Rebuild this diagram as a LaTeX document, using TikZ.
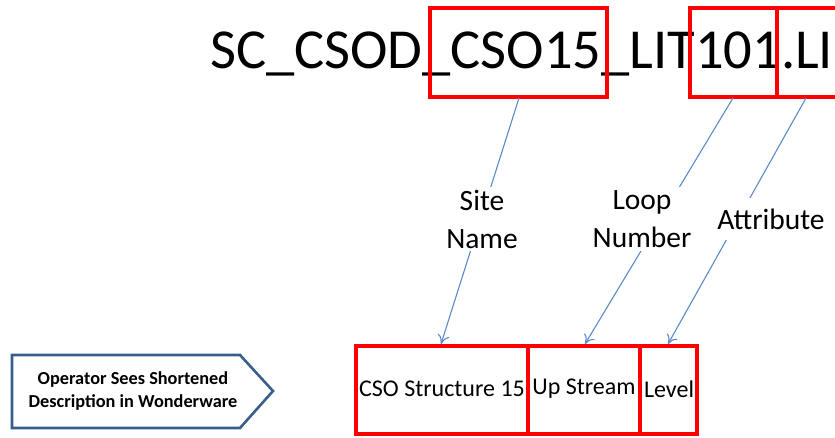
\documentclass[tikz,border=0pt]{standalone}
\usepackage{fontspec}
\setmainfont{Carlito}
\usetikzlibrary{arrows.meta}
\definecolor{boxred}{HTML}{FF0000}
\definecolor{lineblue}{HTML}{5B8AC9}
\definecolor{navy}{HTML}{3A5E8C}
\tikzset{
  redbox/.style={draw=boxred, line width=3.2pt},
  conn/.style={draw=lineblue, line width=1.1pt, -{To[length=9pt,width=12pt,line width=1.1pt]}},
  lbl/.style={fill=white, inner xsep=6pt, inner ysep=3pt, align=center, font=\fontsize{29.5}{38}\selectfont},
  btxt/.style={font=\fontsize{24}{28}\selectfont, inner sep=0pt}
}
\begin{document}
\begin{tikzpicture}[x=1pt,y=-1pt]
\useasboundingbox (0,0) rectangle (835,437);
% title text
\node[anchor=base west, inner sep=0pt, font=\fontsize{56.5}{60}\selectfont] (title) at (210,68) {SC\_CSOD\_CSO15\_LIT101.LI};
% top red boxes
\draw[redbox] (430,8) rectangle (607,97);
\draw[redbox] (690,8) rectangle (777,97);
\draw[redbox] (777,8) rectangle (840,97);
\coordinate (sA) at (519,98);
\coordinate (sB) at (733,98);
\coordinate (sC) at (806,98);
% bottom boxes
\draw[redbox] (356,346) rectangle (528,434);
\draw[redbox] (528,346) rectangle (640,434);
\draw[redbox] (640,346) rectangle (697,434);
\node[btxt] (bA) at (442,389) {CSO Structure 15};
\node[btxt] (bB) at (584,389) {Up Stream};
\node[btxt] (bC) at (669,389) {Level};
\coordinate (tA) at (441,344);
\coordinate (tB) at (585,344);
\coordinate (tC) at (668,344);
% connectors
\draw[conn] (sA) -- (tA);
\draw[conn] (sB) -- (tB);
\draw[conn] (sC) -- (tC);
% labels
\node[lbl] (lA) at (482,219) {Site\\Name};
\node[lbl] (lB) at (642,219) {Loop\\Number};
\node[lbl, inner ysep=11pt, inner xsep=3pt] (lC) at (771,219) {Attribute};
% pentagon arrow
\draw[draw=navy, line width=2.6pt, fill=white, line join=miter]
  (12,355) -- (240,355) -- (273,391) -- (240,428) -- (12,428) -- cycle;
\node[align=center, font=\bfseries\fontsize{18.3}{22.5}\selectfont, inner sep=0pt] (op) at (133,391)
  {Operator Sees Shortened\\Description in Wonderware};
\end{tikzpicture}
\end{document}
